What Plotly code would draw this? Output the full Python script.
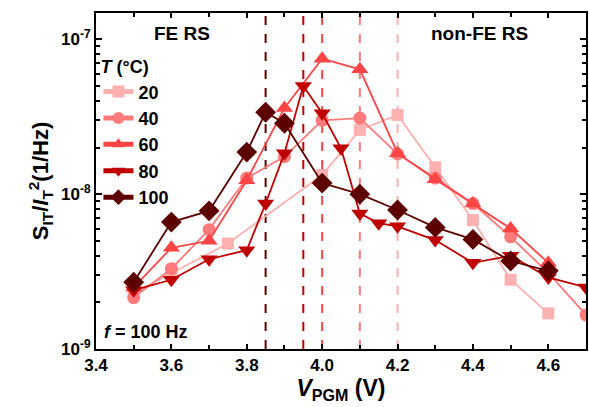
import plotly.graph_objects as go

temps = ["20", "40", "60", "80", "100"]
colors = ["#ffb0b0", "#ff7a7a", "#ff4545", "#c00000", "#5c0000"]
symbols = ["square", "circle", "triangle-up", "triangle-down", "diamond"]

x20 = [3.5, 3.6, 3.75, 4.0, 4.1, 4.2, 4.3, 4.4, 4.5, 4.6]
y20 = [2.3e-9, 3.1e-9, 4.8e-9, 1.33e-8, 2.6e-8, 3.25e-8, 1.49e-8, 6.8e-9, 2.8e-9, 1.7e-9]

x40 = [3.5, 3.6, 3.7, 3.8, 3.9, 4.0, 4.1, 4.2, 4.3, 4.4, 4.5, 4.6, 4.7]
y40 = [2.15e-9, 3.3e-9, 5.9e-9, 1.27e-8, 1.75e-8, 3.0e-8, 3.1e-8, 1.82e-8, 1.27e-8, 8.7e-9, 5.3e-9, 3.1e-9, 1.66e-9]

x60 = [3.5, 3.6, 3.7, 3.8, 3.9, 4.0, 4.1, 4.2, 4.3, 4.4, 4.5, 4.6]
y60 = [2.5e-9, 4.5e-9, 5.0e-9, 1.23e-8, 3.6e-8, 7.5e-8, 6.4e-8, 1.84e-8, 1.25e-8, 8.7e-9, 6.0e-9, 3.6e-9]

x80 = [3.5, 3.6, 3.7, 3.8, 3.85, 3.9, 3.95, 4.0, 4.05, 4.1, 4.15, 4.2, 4.3, 4.4, 4.5, 4.6, 4.7]
y80 = [2.4e-9, 2.8e-9, 3.8e-9, 4.35e-9, 8.7e-9, 1.84e-8, 5.0e-8, 3.33e-8, 1.98e-8, 7.5e-9, 6.5e-9, 6.2e-9, 5.05e-9, 3.6e-9, 4.0e-9, 2.9e-9, 2.5e-9]

x100 = [3.5, 3.6, 3.7, 3.8, 3.85, 3.9, 4.0, 4.1, 4.2, 4.3, 4.4, 4.5, 4.6]
y100 = [2.7e-9, 6.6e-9, 7.8e-9, 1.87e-8, 3.38e-8, 2.87e-8, 1.18e-8, 1.0e-8, 7.9e-9, 6.1e-9, 5.1e-9, 3.7e-9, 3.2e-9]

# peak positions (vertical dashed lines), ordered 20..100
peak_x = [4.2, 4.1, 4.0, 3.95, 3.85]

xticks = [3.4, 3.6, 3.8, 4.0, 4.2, 4.4, 4.6]
yticks = [1e-9, 1e-8, 1e-7]
yticktext = ["10<sup>-9</sup>", "10<sup>-8</sup>", "10<sup>-7</sup>"]

FONT = "Liberation Sans, Arial, sans-serif"

xs = [x20, x40, x60, x80, x100]
ys = [y20, y40, y60, y80, y100]
sizes = [12, 13, 15, 15, 16]

fig = go.Figure()
for t, c, s, x, y, ms in zip(temps, colors, symbols, xs, ys, sizes):
    fig.add_trace(go.Scatter(
        x=x, y=y, mode="lines+markers", name=t,
        line=dict(color=c, width=1.8),
        marker=dict(symbol=s, size=ms, color=c),
    ))

shapes = []
for px, c in zip(peak_x, colors):
    shapes.append(dict(type="line", xref="x", yref="paper", x0=px, x1=px, y0=0, y1=1,
                       line=dict(color=c, width=2, dash="dash"), layer="below"))

axis_common = dict(showline=True, linecolor="black", linewidth=2, mirror="ticks",
                   ticks="inside", tickcolor="black", tickwidth=1.5, showgrid=False,
                   zeroline=False,
                   tickfont=dict(family=FONT, size=17, color="black", weight="bold"))

fig.update_layout(
    width=589, height=407,
    margin=dict(l=96, r=1, t=13, b=58),
    paper_bgcolor="white", plot_bgcolor="white",
    shapes=shapes,
    xaxis=dict(range=[3.4, 4.7], tickvals=xticks, ticktext=[f"{v:.1f}" for v in xticks],
               ticklen=5, minor=dict(ticks="inside", dtick=0.1, ticklen=4, tickcolor="black", tick0=3.4),
               title=dict(text="<i>V</i><sub>PGM</sub> (V)", standoff=4,
                          font=dict(family=FONT, size=23, color="black", weight="bold")),
               **axis_common),
    yaxis=dict(type="log", range=[-9, -6.83], tickvals=yticks, ticktext=yticktext,
               ticklen=6, minor=dict(ticks="inside", dtick="D1", ticklen=4, tickcolor="black"),
               title=dict(text="S<sub>IT</sub>/<i>I</i><sub>T</sub><sup>2</sup>(1/Hz)", standoff=6,
                          font=dict(family=FONT, size=22, color="black", weight="bold")),
               **axis_common),
    legend=dict(x=0.005, y=0.89, xanchor="left", yanchor="top",
                bgcolor="rgba(0,0,0,0)",
                title=dict(text="<i>T</i> (°C)", font=dict(family=FONT, size=18, color="black", weight="bold")),
                font=dict(family=FONT, size=18, color="black", weight="bold"),
                tracegroupgap=0, itemsizing="constant"),
    annotations=[
        dict(text="FE RS", x=0.175, y=0.94, xref="paper", yref="paper", showarrow=False,
             xanchor="center", yanchor="middle",
             font=dict(family=FONT, size=19, color="black", weight="bold")),
        dict(text="non-FE RS", x=0.783, y=0.94, xref="paper", yref="paper", showarrow=False,
             xanchor="center", yanchor="middle",
             font=dict(family=FONT, size=19, color="black", weight="bold")),
        dict(text="<i>f</i> = 100 Hz", x=0.012, y=0.05, xref="paper", yref="paper", showarrow=False,
             xanchor="left", yanchor="middle",
             font=dict(family=FONT, size=18, color="black", weight="bold")),
    ],
)

fig.write_html("out.html")
